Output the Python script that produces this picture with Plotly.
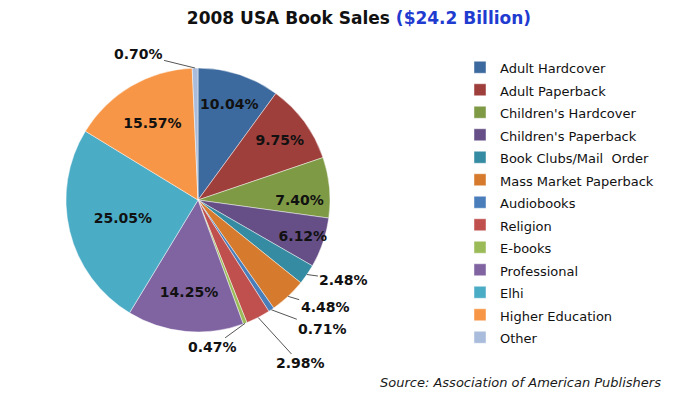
import math
import plotly.graph_objects as go

categories = ["Adult Hardcover", "Adult Paperback", "Children's Hardcover", "Children's Paperback",
              "Book Clubs/Mail  Order", "Mass Market Paperback", "Audiobooks", "Religion", "E-books",
              "Professional", "Elhi", "Higher Education", "Other"]
shares = [10.04, 9.75, 7.40, 6.12, 2.48, 4.48, 0.71, 2.98, 0.47, 14.25, 25.05, 15.57, 0.70]
colors = ["#3D6A9E", "#9E3F3C", "#7E9A45", "#654F86", "#358BA1", "#D67B2E", "#4A7EBB",
          "#C0504D", "#9BBB59", "#8064A2", "#4BACC6", "#F79646", "#A9BCDB"]
# label placement: None = inside the slice, otherwise pixel offset of the callout label
callout_offsets = [None, None, None, None, (37, 5), (37, 11), (51, 19), (42, 46), (-33, 24),
                   None, None, None, (-57, -14)]

FONT = "DejaVu Sans"
W, H = 677, 397
cx, cy, r = 198, 200, 132

legend_labels = ["<span style='font-size:13px'>%s</span>" % c for c in categories]
text_pos = ["inside" if o is None else "none" for o in callout_offsets]

fig = go.Figure(go.Pie(
    labels=legend_labels,
    values=shares,
    sort=False,
    direction="clockwise",
    rotation=0,
    marker=dict(colors=colors, line=dict(color="rgba(255,255,255,0.45)", width=1)),
    texttemplate="%{value:.2f}%",
    textposition=text_pos,
    insidetextorientation="horizontal",
    textfont=dict(family=FONT, size=14, color="#111111", weight="bold"),
    hovertemplate="%{label}: %{value:.2f}%<extra></extra>",
    domain=dict(x=[(cx - r) / W, (cx + r) / W], y=[(H - cy - r) / H, (H - cy + r) / H]),
))

annotations = []
total = sum(shares)
cum = 0.0
for val, off in zip(shares, callout_offsets):
    mid = (cum + val / 2) / total * 2 * math.pi
    cum += val
    if off is None:
        continue
    px = cx + r * math.sin(mid)
    py = cy - r * math.cos(mid)
    annotations.append(dict(
        text="%.2f%%" % val, xref="paper", yref="paper", x=px / W, y=1 - py / H,
        showarrow=True, arrowhead=0, arrowwidth=1, arrowcolor="#555555",
        ax=off[0], ay=off[1], standoff=0,
        font=dict(family=FONT, size=14, color="#111111", weight="bold"),
    ))

annotations.append(dict(
    text="<i>Source: Association of American Publishers</i>",
    xref="paper", yref="paper", x=663 / W, xanchor="right", y=1 - 382 / H, yanchor="middle",
    showarrow=False, font=dict(family=FONT, size=13, color="#1a1a1a"),
))

fig.update_layout(
    width=W, height=H,
    margin=dict(l=0, r=0, t=0, b=0),
    paper_bgcolor="white",
    uniformtext=dict(minsize=14, mode="show"),
    title=dict(
        text="2008 USA Book Sales <span style='color:#1F3BD0'>($24.2 Billion)</span>",
        x=359 / W, xanchor="center", y=1 - 18 / H, yanchor="middle",
        font=dict(family=FONT, size=17, color="#111111", weight="bold"),
    ),
    legend=dict(
        x=460 / W, xanchor="left", y=1 - 51 / H, yanchor="top",
        font=dict(family=FONT, size=15, color="#111111"),
        bgcolor="rgba(0,0,0,0)",
    ),
    annotations=annotations,
)

fig.write_html("out.html", config={"displayModeBar": False},
               post_script="document.body.style.margin='0px';")
